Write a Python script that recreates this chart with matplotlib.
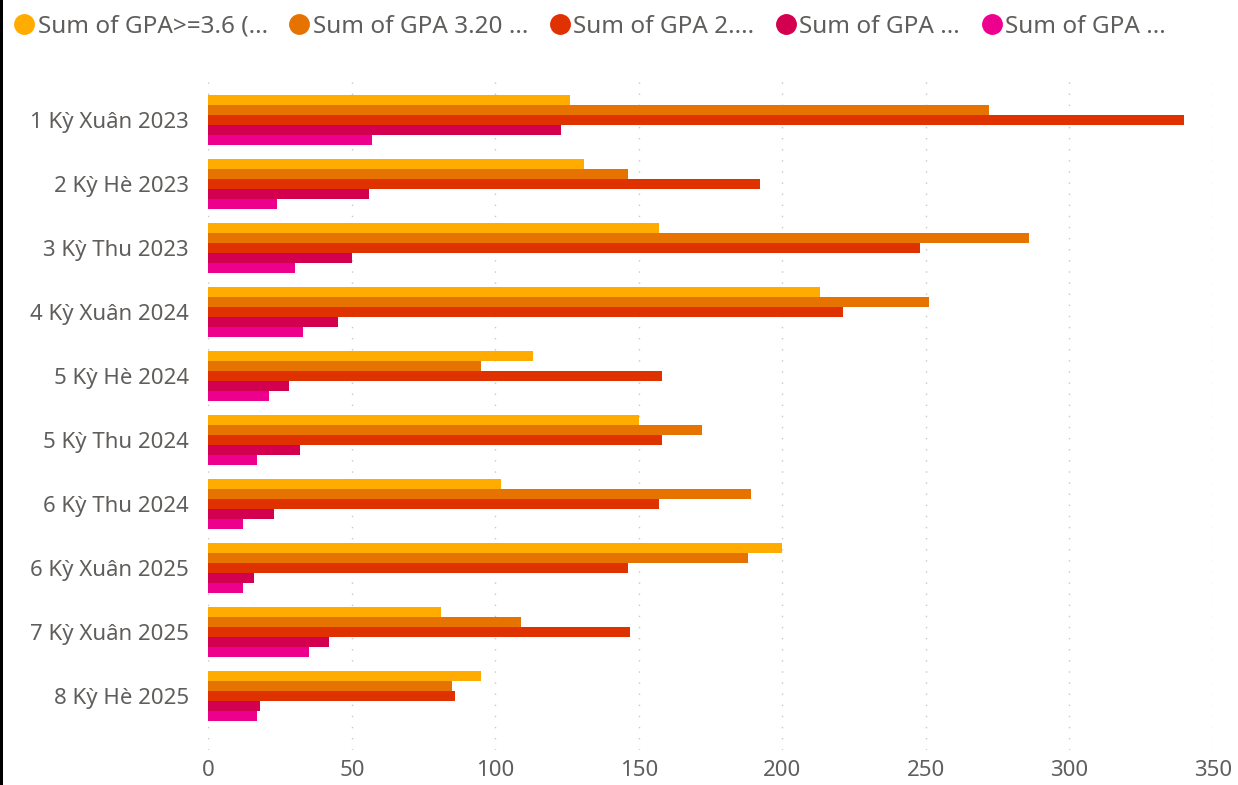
import numpy as np
import matplotlib
matplotlib.use("Agg")
import matplotlib.pyplot as plt
from matplotlib.lines import Line2D
from matplotlib.patches import Rectangle

plt.rcParams['font.family'] = ['Noto Sans', 'DejaVu Sans']

categories = ['1 Kỳ Xuân 2023', '2 Kỳ Hè 2023', '3 Kỳ Thu 2023', '4 Kỳ Xuân 2024',
              '5 Kỳ Hè 2024', '5 Kỳ Thu 2024', '6 Kỳ Thu 2024', '6 Kỳ Xuân 2025',
              '7 Kỳ Xuân 2025', '8 Kỳ Hè 2025']

series_labels = ['Sum of GPA>=3.6 (...', 'Sum of GPA 3.20 ...', 'Sum of GPA 2....',
                 'Sum of GPA ...', 'Sum of GPA ...']

gpa_36 = [126, 131, 157, 213, 113, 150, 102, 200, 81, 95]
gpa_320 = [272, 146, 286, 251, 95, 172, 189, 188, 109, 85]
gpa_2 = [340, 192, 248, 221, 158, 158, 157, 146, 147, 86]
gpa_4th = [123, 56, 50, 45, 28, 32, 23, 16, 42, 18]
gpa_5th = [57, 24, 30, 33, 21, 17, 12, 12, 35, 17]

colors = ['#FFAB00', '#E67300', '#E03100', '#D2004E', '#EE008F']
text_color = '#605E5C'

series = [gpa_36, gpa_320, gpa_2, gpa_4th, gpa_5th]

fig = plt.figure(figsize=(12.38, 7.85), dpi=100)
ax = fig.add_axes([0.1684, 0.0446, 0.9798 - 0.1684, 0.9045 - 0.0446])

y = np.arange(len(categories))
h = 10 / 64
for k, vals in enumerate(series):
    ax.barh(y - 2 * h + k * h, vals, height=h, color=colors[k], label=series_labels[k])

ax.set_xlim(0, 350)
ax.set_ylim(9.84, -0.70)
ax.set_xticks(np.arange(0, 351, 50))
ax.set_yticks(y)
ax.set_yticklabels(categories)
ax.tick_params(axis='both', length=0, labelsize=16, colors=text_color)
ax.tick_params(axis='y', pad=14)
ax.tick_params(axis='x', pad=7)
for s in ax.spines.values():
    s.set_visible(False)
ax.xaxis.grid(True, color='#C8C8C8', linestyle=(0, (1, 7)), linewidth=1)
ax.set_axisbelow(True)

handles = [Line2D([], [], marker='o', linestyle='none', markersize=14,
                  markerfacecolor=c, markeredgecolor=c) for c in colors]
fig.legend(handles, series_labels, loc='upper left', bbox_to_anchor=(0.001, 1.0),
           ncol=5, frameon=False, fontsize=17.5, handlelength=0.7, handletextpad=0.2,
           columnspacing=0.95, labelcolor=text_color, borderaxespad=0.2)

fig.add_artist(Rectangle((0, 0), 3 / 1238, 1, transform=fig.transFigure,
                         color='black', linewidth=0))

fig.savefig('out.png', dpi=100)
